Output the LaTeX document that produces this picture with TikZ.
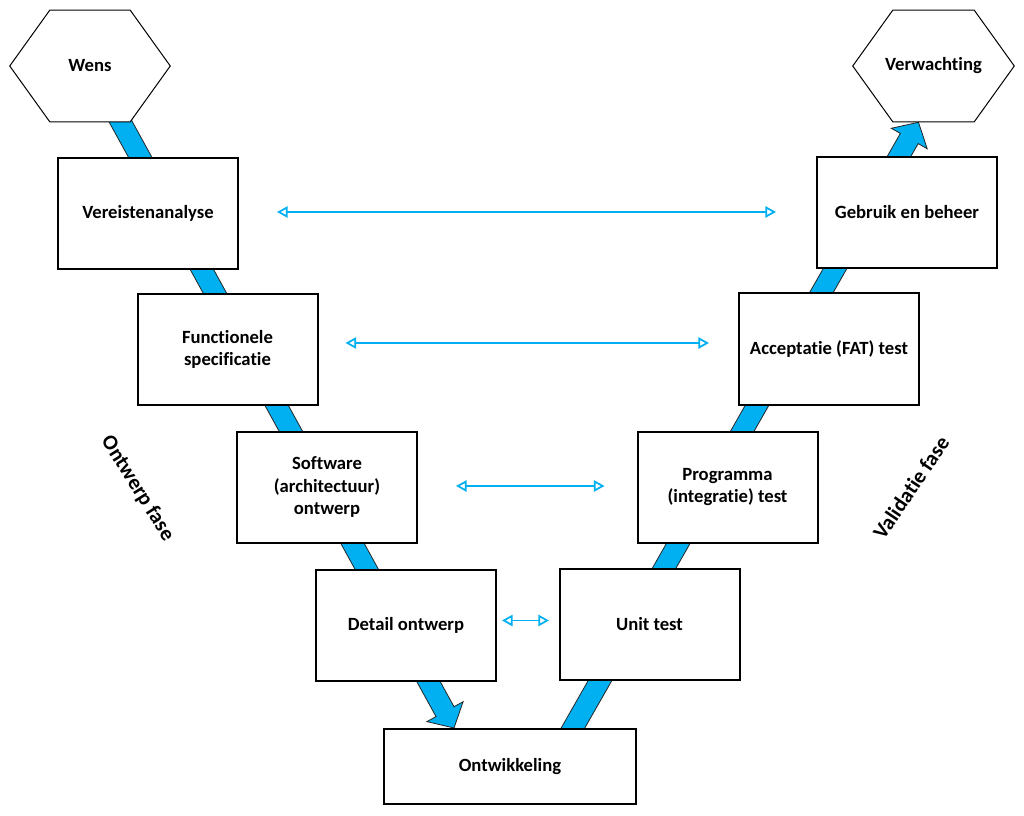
\documentclass[tikz,border=0pt]{standalone}
\usepackage{fontspec}
\setmainfont{Carlito}[Ligatures=NoCommon]
\usetikzlibrary{calc,arrows.meta,backgrounds}
\definecolor{vblue}{HTML}{00B0F0}
\tikzset{
  box/.style={draw=black, line width=1.5pt, fill=white, minimum width=135pt, minimum height=83.25pt,
    align=center, font=\fontsize{14}{17}\selectfont\bfseries, inner sep=0pt},
  hexa/.style={minimum width=120pt, minimum height=83.25pt, inner sep=0pt,
    font=\fontsize{14}{17}\selectfont\bfseries},
  hexline/.style={draw=black, line width=0.75pt, fill=white, line join=miter},
  dbl/.style={draw=vblue, line width=1.3pt,
    {Triangle[open,length=8pt,width=8.5pt,fill=white]}-{Triangle[open,length=8pt,width=8.5pt,fill=white]}},
  band/.style={fill=vblue, draw=black!85, line width=0.6pt, line join=miter},
  phase/.style={font=\fontsize{16}{19}\selectfont\bfseries}
}
\begin{document}
\begin{tikzpicture}[x=0.75pt,y=-0.75pt]
\useasboundingbox (0,0) rectangle (1024,816);

% hexagons
\node[hexa] (wens) at (90,66) {};
\node[hexa, minimum width=120.75pt] (verw) at (933.5,66) {};

% boxes
\node[box] (v) at (148,213.5) {Vereistenanalyse};
\node[box] (f) at (227.5,349.5) {Functionele\\specificatie};
\node[box] (s) at (327,487) {Software\\(architectuur)\\ontwerp};
\node[box] (d) at (406,625.5) {Detail ontwerp};
\node[box, minimum width=189pt, minimum height=56.25pt] (o) at (510,766.5) {Ontwikkeling};
\node[box] (u) at (649.5,624.5) {Unit test};
\node[box] (p) at (727.5,487) {Programma\\(integratie) test};
\node[box] (a) at (829,349) {Acceptatie (FAT) test};
\node[box] (g) at (907,212.5) {Gebruik en beheer};

\begin{scope}[on background layer]
  \fill[white] (0,0) rectangle (1024,816);
  % left band arrow
  \coordinate (LS) at (wens.center);
  \coordinate (LT) at ([xshift=-42pt]o.north);
  \coordinate (LB) at ($(LT)!14pt!(LS)$);
  \path[band] ($(LS)!7.7pt!90:(LT)$) -- ($(LB)!7.7pt!-90:(LS)$) -- ($(LB)!15.5pt!-90:(LS)$)
     -- (LT) -- ($(LB)!15.5pt!90:(LS)$) -- ($(LB)!7.7pt!90:(LS)$) -- ($(LS)!7.7pt!-90:(LT)$) -- cycle;
  % right band arrow
  \coordinate (RS) at ([xshift=30.75pt]o.center);
  \coordinate (RT) at ([xshift=-11.25pt,yshift=-0.4pt]verw.south);
  \coordinate (RB) at ($(RT)!14pt!(RS)$);
  \path[band] ($(RS)!7.7pt!90:(RT)$) -- ($(RB)!7.7pt!-90:(RS)$) -- ($(RB)!15.5pt!-90:(RS)$)
     -- (RT) -- ($(RB)!15.5pt!90:(RS)$) -- ($(RB)!7.7pt!90:(RS)$) -- ($(RS)!7.7pt!-90:(RT)$) -- cycle;
\end{scope}

% hexagon outlines and labels
\path[hexline] (wens.west) -- ([xshift=30pt]wens.north west) -- ([xshift=-30pt]wens.north east)
  -- (wens.east) -- ([xshift=-30pt]wens.south east) -- ([xshift=30pt]wens.south west) -- cycle;
\node[hexa] at (wens.center) {Wens};
\path[hexline] (verw.west) -- ([xshift=30pt]verw.north west) -- ([xshift=-30pt]verw.north east)
  -- (verw.east) -- ([xshift=-30pt]verw.south east) -- ([xshift=30pt]verw.south west) -- cycle;
\node[hexa] at (verw.center) {Verwachting};

% double arrows
\draw[dbl] ([xshift=28.5pt,yshift=1.1pt]v.east) -- ([xshift=-30pt,yshift=0.4pt]g.west);
\draw[dbl] ([xshift=20.25pt,yshift=4.9pt]f.east) -- ([xshift=-21.75pt,yshift=4.5pt]a.west);
\draw[dbl] ([xshift=28.5pt,yshift=0.75pt]s.east) -- ([xshift=-24pt,yshift=0.75pt]p.west);
\draw[dbl] ([xshift=3.75pt,yshift=3.75pt]d.east) -- ([xshift=-7.1pt,yshift=3pt]u.west);

% phase labels
\node[phase, rotate=-58] (ontw) at (137.5,488.5) {Ontwerp fase};
\node[phase, rotate=56] (vali) at (911,487.5) {Validatie fase};
\end{tikzpicture}
\end{document}
